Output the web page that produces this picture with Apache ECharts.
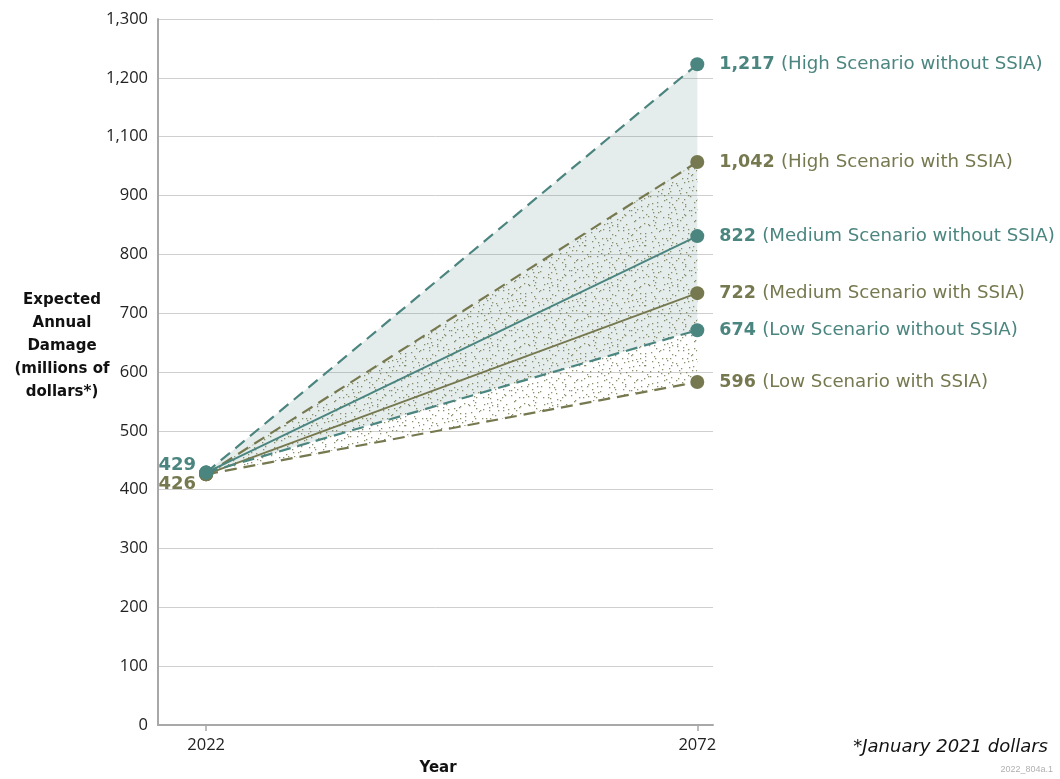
<!DOCTYPE html>
<html><head><meta charset="utf-8">
<script src="https://cdn.jsdelivr.net/npm/echarts@6/dist/echarts.min.js"></script>
<style>html,body{margin:0;padding:0;background:#fff}#c{width:1060px;height:779px}</style>
</head><body><div id="c"></div>
<script>
// ---- data ----
var years = [2022, 2072];
var scenarioNames = ['High Scenario without SSIA','High Scenario with SSIA','Medium Scenario without SSIA','Medium Scenario with SSIA','Low Scenario without SSIA','Low Scenario with SSIA'];
var endLabels = ['1,217','1,042','822','722','674','596'];
// plotted positions (axis labels in the original skip 1,000)
var startValues = [429, 426, 429, 426, 429, 426];
var endValues = [1123, 957, 831, 734, 671, 583];
var startLabels = ['429', '426'];
var yTickValues = [0,100,200,300,400,500,600,700,800,900,1000,1100,1200];
var yTickLabels = ['0','100','200','300','400','500','600','700','800','900','1,100','1,200','1,300'];

var TEAL = '#4b857f', OLIVE = '#76794f';
var colors = [TEAL, OLIVE, TEAL, OLIVE, TEAL, OLIVE];
var dashed = [true, true, false, false, true, true];

// stipple texture: jittered grid (deterministic hash)
function h(n) { var x = Math.sin(n * 12.9898 + 78.233) * 43758.5453; return x - Math.floor(x); }
var T = 60, CELL = 5;
var pc = document.createElement('canvas'); pc.width = T; pc.height = T;
var pctx = pc.getContext('2d');
pctx.fillStyle = 'rgba(112,115,75,0.8)';
var k = 0;
for (var gy = 0; gy < T; gy += CELL) {
  for (var gx = 0; gx < T; gx += CELL) {
    k++;
    var px = gx + Math.floor(h(k) * CELL);
    var py = gy + Math.floor(h(k + 1000) * CELL);
    pctx.fillRect(px, py, 1.3, 1.3);
  }
}

var chart = echarts.init(document.getElementById('c'), null, {renderer: 'canvas'});
function pts(i) { return [[years[0], startValues[i]], [years[1], endValues[i]]]; }

function bandSeries(hi, lo, fill, z) {
  return {
    type:'custom', z:z, silent:true,
    encode:{x:[0,1], y:[2,3,4,5]},
    data:[[years[0], years[1], startValues[lo], endValues[lo], startValues[hi], endValues[hi]]],
    renderItem:function(params, api){
      var a = api.coord([api.value(0), api.value(2)]);
      var b = api.coord([api.value(1), api.value(3)]);
      var c = api.coord([api.value(1), api.value(5)]);
      var d = api.coord([api.value(0), api.value(4)]);
      return {type:'polygon', shape:{points:[a,b,c,d]}, style:{fill: fill}};
    }
  };
}

var series = [];
series.push(bandSeries(0, 4, 'rgba(75,133,127,0.15)', 1));
series.push(bandSeries(1, 5, {image: pc, repeat:'repeat'}, 2));

var order = [5, 3, 1, 4, 2, 0];
order.forEach(function(i){
  var c = colors[i];
  var d = pts(i);
  var startItem = {value: d[0], symbolSize: 14};
  if (i === 0) startItem.label = {show:true, position:'left', distance:3, offset:[0,-7], formatter: startLabels[0], color: TEAL, fontFamily:'DejaVu Sans', fontWeight:'bold', fontSize:18};
  if (i === 1) startItem.label = {show:true, position:'left', distance:3, offset:[0,10], formatter: startLabels[1], color: OLIVE, fontFamily:'DejaVu Sans', fontWeight:'bold', fontSize:18};
  var endItem = {value: d[1], symbolSize: 14, label: {
    show:true, position:'right', distance:15,
    formatter: '{b|' + endLabels[i] + '} {n|(' + scenarioNames[i] + ')}',
    rich: {
      b: {fontFamily:'DejaVu Sans', fontWeight:'bold', fontSize:17.5, color:c, padding:[0,3,0,0]},
      n: {fontFamily:'DejaVu Sans', fontSize:18.2, color:c}
    }
  }};
  series.push({
    type:'line', name: scenarioNames[i], data:[startItem, endItem],
    symbol:'circle', showSymbol:true, z: 5 + (i%2===0 ? 2 : 1),
    itemStyle:{color:c}, lineStyle:{color:c, width: dashed[i] ? 2.2 : 2, type: dashed[i] ? [12,7] : 'solid'},
    label:{show:false}, animation:false
  });
});

chart.setOption({
  animation:false,
  grid:{left:158, right:347, top:19, bottom:54},
  xAxis:{type:'value', min:2017.1, max:2073.6, offset:4,
    axisLine:{show:true, lineStyle:{color:'#a8a8a8', width:2}},
    axisTick:{show:true, customValues: years, length:6, lineStyle:{color:'#a8a8a8', width:1.5}},
    axisLabel:{customValues: years, color:'#222', fontSize:16.5, fontFamily:'Open Sans', margin:8, formatter:function(v){return String(v);}},
    splitLine:{show:false}},
  yAxis:{type:'value', min:0, max:1200, interval:100,
    axisLine:{show:true, lineStyle:{color:'#a8a8a8', width:2}},
    axisTick:{show:false},
    axisLabel:{color:'#222', fontSize:16.5, fontFamily:'Open Sans', margin:10,
      formatter:function(v){ var k = yTickValues.indexOf(v); return k >= 0 ? yTickLabels[k] : ''; }},
    splitLine:{show:true, lineStyle:{color:'#cfcfcf', width:1}}},
  series: series,
  graphic:[
    {type:'text', style:{x:62, y:346, text:'Expected\nAnnual\nDamage\n(millions of\ndollars*)', align:'center', verticalAlign:'middle', lineHeight:23, font:'bold 15px "DejaVu Sans"', fill:'#111'}},
    {type:'text', style:{x:438, y:768, text:'Year', align:'center', verticalAlign:'middle', font:'bold 15px "DejaVu Sans"', fill:'#111'}},
    {type:'text', style:{x:1048, y:747, text:'*January 2021 dollars', align:'right', verticalAlign:'middle', font:'italic 18px "DejaVu Sans"', fill:'#111'}},
    {type:'text', style:{x:1053, y:770, text:'2022_804a.1', align:'right', verticalAlign:'middle', font:'9px "Liberation Sans Narrow", "Liberation Sans"', fill:'#b0b0b0'}}
  ]
});
</script></body></html>
